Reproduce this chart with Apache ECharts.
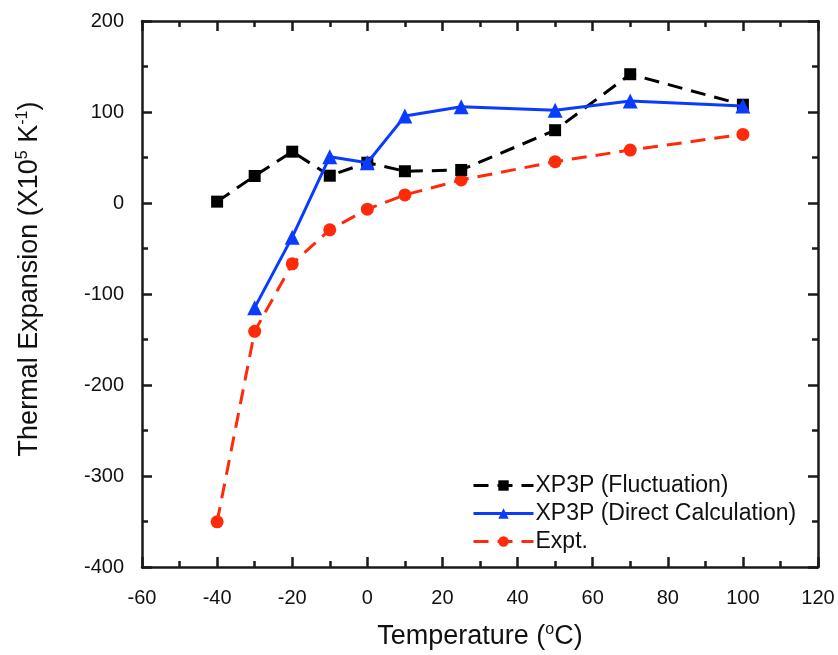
<!DOCTYPE html>
<html><head><meta charset="utf-8">
<script src="https://cdn.jsdelivr.net/npm/echarts@6/dist/echarts.min.js"></script>
<style>html,body{margin:0;padding:0;background:#fff}#c{width:838px;height:655px}</style>
</head><body><div id="c"></div>
<script>
var temps = [-40, -30, -20, -10, 0, 10, 25, 50, 70, 100];
var fluct = [1.5, 29.7, 56.4, 30, 44.3, 34.9, 36.3, 80, 141.5, 108];
var directT = [-30, -20, -10, 0, 10, 25, 50, 70, 100];
var direct = [-115, -37.5, 50.9, 44.3, 95.5, 105.7, 102, 112, 106.5];
var expt = [-350.4, -141, -66.8, -29.5, -6.8, 8.9, 25.3, 45.4, 58.2, 75.4];
var names = ['XP3P (Fluctuation)', 'XP3P (Direct Calculation)', 'Expt.'];

function pairs(xs, ys){ return xs.map(function(x,i){return [x, ys[i]];}); }

var font = 'Liberation Sans, Arial, sans-serif';
var axisCommon = {
  axisLine:{show:true, onZero:false, lineStyle:{color:'#1a1a1a', width:2.5}},
  axisTick:{show:true, inside:true, length:10, lineStyle:{color:'#1a1a1a', width:2.5}},
  minorTick:{show:true, splitNumber:2, length:6, lineStyle:{color:'#1a1a1a', width:2.5}},
  splitLine:{show:false}
};
function ax(extra){ return Object.assign({}, JSON.parse(JSON.stringify(axisCommon)), extra); }
var richT = {a:{fontFamily:font, fontSize:27, color:'#111'}, s:{fontFamily:font, fontSize:16, color:'#111', verticalAlign:'top', padding:[0,0,13,0]}};

var chart = echarts.init(document.getElementById('c'));
chart.setOption({
  animation:false,
  backgroundColor:'#fff',
  grid:{left:142, right:20, top:21, bottom:87},
  legend:{
    orient:'vertical', left:467, top:469, itemWidth:60, itemHeight:13, itemGap:5,
    textStyle:{fontFamily:font, fontSize:23, color:'#111', padding:[0,0,0,-3]},
    lineStyle:{width:3},
    data:names
  },
  xAxis:[
    ax({type:'value', min:-60, max:120, interval:20, position:'bottom',
      axisLabel:{fontFamily:font, fontSize:20, color:'#111', margin:21},
      name:'{a|Temperature (}{s|o}{a|C)}', nameLocation:'middle', nameGap:55,
      nameTextStyle:{rich:richT}
    }),
    ax({type:'value', min:-60, max:120, interval:20, position:'top', axisLabel:{show:false}})
  ],
  yAxis:[
    ax({type:'value', min:-400, max:200, interval:100, position:'left',
      axisLabel:{fontFamily:font, fontSize:20, color:'#111', margin:18},
      name:'{a|Thermal Expansion (X10}{s|5}{a| K}{s|-1}{a|)}', nameLocation:'middle', nameGap:98,
      nameTextStyle:{rich:richT, padding:[0,0,0,30]}
    }),
    ax({type:'value', min:-400, max:200, interval:100, position:'right', axisLabel:{show:false}})
  ],
  series:[
    {name:names[0], type:'line', data:pairs(temps, fluct), symbol:'rect', symbolSize:12,
      itemStyle:{color:'#000'}, lineStyle:{color:'#000', width:3, type:[15,9]}, z:3},
    {name:names[1], type:'line', data:pairs(directT, direct), symbol:'triangle', symbolSize:15,
      itemStyle:{color:'#0a3cff'}, lineStyle:{color:'#0a3cff', width:3, type:'solid'}, z:4},
    {name:names[2], type:'line', data:pairs(temps, expt), symbol:'circle', symbolSize:13,
      itemStyle:{color:'#ff2a0a'}, lineStyle:{color:'#ff2a0a', width:3, type:[15,9]}, z:2}
  ]
});
</script></body></html>
